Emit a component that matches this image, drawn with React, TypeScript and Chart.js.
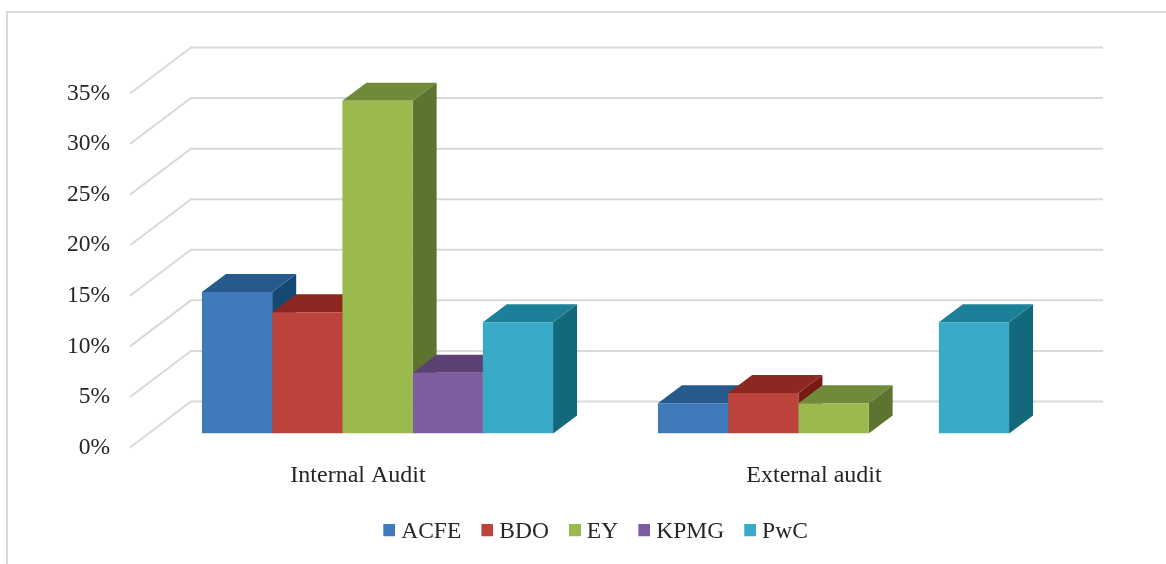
import React, { useEffect, useRef } from "react";
import { Chart, registerables } from "chart.js";

Chart.register(...registerables);

const categories = ["Internal Audit", "External audit"];
const tickStep = 5;
const tickMax = 35;

const ACFE = [14, 3];
const BDO = [12, 4];
const EY = [32.9, 3];
const KPMG = [6, 0];
const PwC = [11, 11];

const seriesNames = ["ACFE", "BDO", "EY", "KPMG", "PwC"];
const seriesValues = [ACFE, BDO, EY, KPMG, PwC];
const frontColors = ["#3f7bba", "#bd443d", "#9aba4e", "#7d5ca0", "#39aac7"];
const topColors = ["#265a8c", "#8c2722", "#6f8a38", "#5c4175", "#1c8098"];
const sideColors = ["#164873", "#761a14", "#5d7330", "#4c3562", "#14687c"];

const GRID = "#d9d9d9";
const TEXT = "#262626";
const FONT = "'Liberation Serif', 'Times New Roman', serif";
const FONT_SIZE = 23.5;

// Depth of the 3D box relative to the plane of the bars' front faces
const wall = { frontX: -19.5, frontY: 14, backX: 41.5, backY: -32 };
const barDepth = { x: 24, y: -18 };

function swatch(color: string) {
  const c = document.createElement("canvas");
  c.width = 18;
  c.height = 16;
  const g = c.getContext("2d")!;
  g.fillStyle = color;
  g.fillRect(6, 0, 12, 12);
  return c;
}

const frame3d = {
  id: "frame3d",
  beforeDraw(chart: any) {
    const { ctx, width, height } = chart;
    ctx.save();
    ctx.strokeStyle = GRID;
    ctx.lineWidth = 2;
    ctx.beginPath();
    ctx.moveTo(7, height + 2);
    ctx.lineTo(7, 12);
    ctx.lineTo(width + 2, 12);
    ctx.stroke();
    ctx.restore();
  },
  beforeDatasetsDraw(chart: any) {
    const { ctx, chartArea, scales } = chart;
    const y = scales.y;
    ctx.save();
    ctx.strokeStyle = GRID;
    ctx.lineWidth = 2;
    ctx.lineJoin = "miter";
    y.ticks.forEach((t: any) => {
      const p = y.getPixelForValue(t.value);
      ctx.beginPath();
      ctx.moveTo(chartArea.left + wall.frontX, p + wall.frontY);
      ctx.lineTo(chartArea.left + wall.backX, p + wall.backY);
      ctx.lineTo(chartArea.right + wall.backX, p + wall.backY);
      ctx.stroke();
    });
    // side and top faces, painted left to right; the library draws the fronts after
    seriesNames.forEach((_, i) => {
      const meta = chart.getDatasetMeta(i);
      meta.data.forEach((bar: any, j: number) => {
        if (!seriesValues[i][j]) return;
        const { x, y: top, base, width } = bar.getProps(["x", "y", "base", "width"], true);
        const l = x - width / 2;
        const r = x + width / 2;
        const dx = barDepth.x;
        const dy = barDepth.y;
        ctx.fillStyle = sideColors[i];
        ctx.beginPath();
        ctx.moveTo(r, top);
        ctx.lineTo(r + dx, top + dy);
        ctx.lineTo(r + dx, base + dy);
        ctx.lineTo(r, base);
        ctx.closePath();
        ctx.fill();
        ctx.fillStyle = topColors[i];
        ctx.beginPath();
        ctx.moveTo(l, top);
        ctx.lineTo(l + dx, top + dy);
        ctx.lineTo(r + dx, top + dy);
        ctx.lineTo(r, top);
        ctx.closePath();
        ctx.fill();
      });
    });
    ctx.restore();
  },
};

export default function App() {
  const ref = useRef<HTMLCanvasElement | null>(null);
  useEffect(() => {
    document.body.style.margin = "0";
    const chart = new Chart(ref.current!, {
      type: "bar",
      data: {
        labels: categories,
        datasets: seriesNames.map((label, i) => ({
          label,
          data: seriesValues[i],
          backgroundColor: frontColors[i],
          borderWidth: 0,
          categoryPercentage: 0.77,
          barPercentage: 1,
        })),
      },
      options: {
        animation: false,
        responsive: false,
        layout: { padding: { left: 25, right: 0, top: 79.5, bottom: 10 } },
        plugins: {
          tooltip: { enabled: false },
          legend: {
            position: "bottom",
            labels: {
              usePointStyle: true,
              pointStyleWidth: 6.25,
              boxHeight: 12,
              padding: 20,
              color: TEXT,
              font: { family: FONT, size: FONT_SIZE },
              generateLabels(c: any) {
                return Chart.defaults.plugins.legend.labels
                  .generateLabels(c)
                  .map((it: any, i: number) => ({ ...it, pointStyle: swatch(frontColors[i]) }));
              },
            },
          },
        },
        scales: {
          x: {
            grid: { display: false },
            border: { display: false },
            afterFit(s: any) {
              s.height = 67;
            },
            ticks: {
              color: TEXT,
              font: { family: FONT, size: 24 },
              padding: 20,
              labelOffset: -19.5,
              maxRotation: 0,
            },
          },
          y: {
            min: 0,
            max: tickMax,
            grid: { display: false, drawTicks: false },
            border: { display: false },
            afterFit(s: any) {
              s.width = 124.5;
            },
            ticks: {
              stepSize: tickStep,
              color: TEXT,
              font: { family: FONT, size: FONT_SIZE },
              padding: 39.5,
              labelOffset: 14,
              callback: (v: any) => `${v}%`,
            },
          },
          spacer: {
            axis: "y",
            position: "right",
            grid: { display: false },
            border: { display: false },
            ticks: { display: false },
            afterFit(s: any) {
              s.width = 104.5;
            },
          },
        },
      } as any,
      plugins: [frame3d],
    });
    return () => chart.destroy();
  }, []);
  return (
    <div style={{ width: 1166, height: 564, background: "#fff", overflow: "hidden" }}>
      <canvas ref={ref} width={1166} height={564} style={{ display: "block" }} />
    </div>
  );
}
